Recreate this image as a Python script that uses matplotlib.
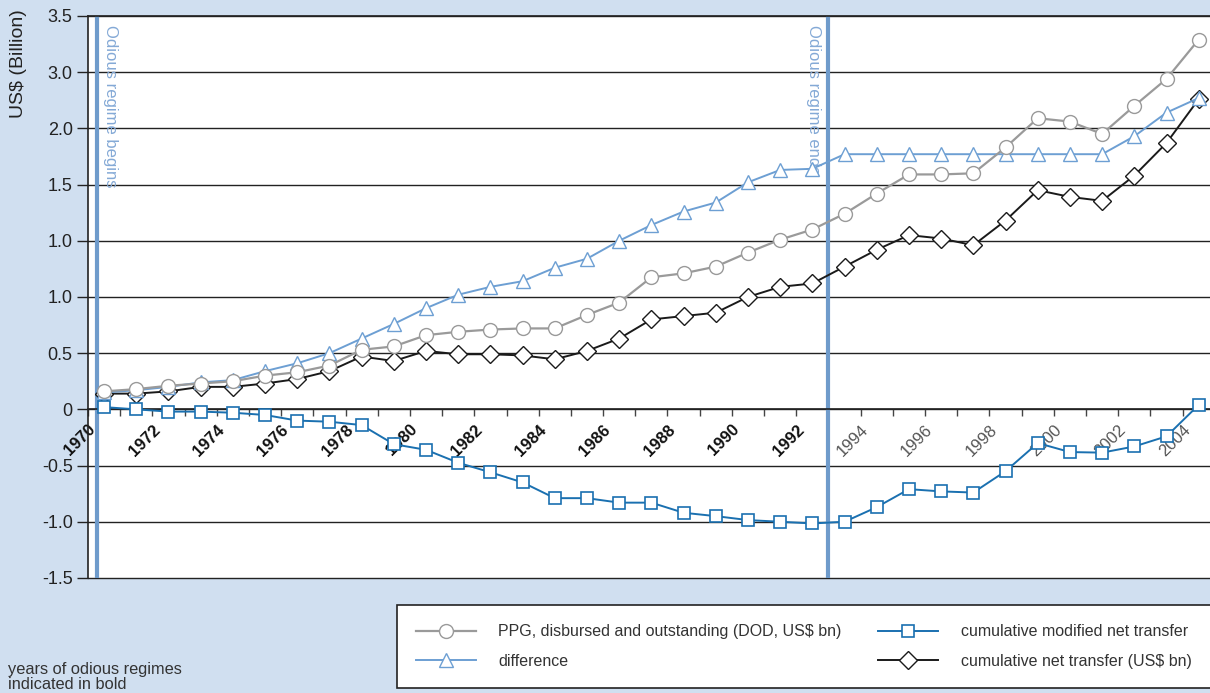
import matplotlib
matplotlib.use("Agg")
import matplotlib.pyplot as plt
import numpy as np

plt.rcParams['font.family'] = ['Liberation Sans', 'DejaVu Sans']

# data (US$ bn)
years = list(range(1970, 2005))
ppg_dod = [0.16, 0.18, 0.21, 0.23, 0.25, 0.30, 0.33, 0.39, 0.53, 0.56,
           0.66, 0.69, 0.71, 0.72, 0.72, 0.84, 0.95, 1.175, 1.21, 1.27,
           1.395, 1.51, 1.60, 1.74, 1.92, 2.09, 2.09, 2.10, 2.33, 2.59,
           2.56, 2.45, 2.70, 2.94, 3.29]
difference = [0.15, 0.17, 0.20, 0.24, 0.26, 0.34, 0.41, 0.50, 0.63, 0.76,
              0.90, 1.02, 1.09, 1.14, 1.26, 1.34, 1.50, 1.64, 1.76, 1.84,
              2.02, 2.13, 2.14, 2.27, 2.27, 2.27, 2.27, 2.27, 2.27, 2.27,
              2.27, 2.27, 2.43, 2.64, 2.77]
cum_net = [0.14, 0.14, 0.16, 0.20, 0.20, 0.23, 0.27, 0.34, 0.47, 0.43,
           0.52, 0.49, 0.49, 0.48, 0.445, 0.52, 0.63, 0.80, 0.83, 0.86,
           1.00, 1.09, 1.12, 1.27, 1.42, 1.55, 1.52, 1.46, 1.68, 1.95,
           1.89, 1.855, 2.08, 2.37, 2.76]
cum_mod_net = [0.02, 0.00, -0.02, -0.02, -0.03, -0.05, -0.10, -0.11, -0.14, -0.31,
               -0.36, -0.475, -0.56, -0.65, -0.79, -0.79, -0.83, -0.83, -0.92, -0.95,
               -0.985, -1.00, -1.015, -1.00, -0.87, -0.71, -0.73, -0.74, -0.55, -0.30,
               -0.38, -0.385, -0.33, -0.24, 0.04]

ytick_values = [3.5, 3.0, 2.5, 2.0, 1.5, 1.0, 0.5, 0, -0.5, -1.0, -1.5]
ytick_labels = ['3.5', '3.0', '2.0', '1.5', '1.0', '1.0', '0.5', '0', '-0.5', '-1.0', '-1.5']
label_years = list(range(1970, 2005, 2))
regime_start = 1970.27
regime_end = 1993.0

bg = '#d0dff0'
c_ppg = '#9a9a9a'
c_diff = '#6d9fd3'
c_mod = '#1a70b0'
c_net = '#1a1a1a'
c_regime = '#6f9bcb'
c_regime_txt = '#84a9d6'

fig = plt.figure(figsize=(12.1, 6.93), dpi=100, facecolor=bg)
ax = fig.add_axes([0.0727, 0.166, 0.9273, 0.811])
ax.set_facecolor('white')

x = np.array(years) + 0.5

for yv in ytick_values:
    ax.axhline(yv, color='#222222', lw=1.0, zorder=1, clip_on=False)

ax.axvline(regime_start, color=c_regime, lw=3, zorder=2)
ax.axvline(regime_end, color=c_regime, lw=3, zorder=2)
ax.text(regime_start + 0.2, 3.42, 'Odious regime begins', rotation=-90, va='top', ha='left',
        color=c_regime_txt, fontsize=12)
ax.text(regime_end - 0.22, 3.42, 'Odious regime ends', rotation=-90, va='top', ha='right',
        color=c_regime_txt, fontsize=12)

l_net, = ax.plot(x, cum_net, color=c_net, lw=1.4, marker='D', ms=9, mfc='white',
                 mec=c_net, mew=1.0, zorder=3, label='cumulative net transfer (US$ bn)')
l_diff, = ax.plot(x, difference, color=c_diff, lw=1.4, marker='^', ms=9.5, mfc='white',
                  mec=c_diff, mew=1.0, zorder=4, label='difference')
l_ppg, = ax.plot(x, ppg_dod, color=c_ppg, lw=1.6, marker='o', ms=10, mfc='white',
                 mec=c_ppg, mew=1.0, zorder=5, label='PPG, disbursed and outstanding (DOD, US$ bn)')
l_mod, = ax.plot(x, cum_mod_net, color=c_mod, lw=1.4, marker='s', ms=9, mfc='white',
                 mec=c_mod, mew=1.2, zorder=6, label='cumulative modified net transfer')

ax.set_xlim(1970, 2004.85)
ax.set_ylim(-1.5, 3.5)

ax.spines['bottom'].set_position(('data', 0))
ax.spines['right'].set_visible(False)
for s in ['bottom', 'left', 'top']:
    ax.spines[s].set_color('#222222')
    ax.spines[s].set_linewidth(1.2)

ax.set_yticks(ytick_values)
ax.set_yticklabels(ytick_labels, fontsize=13, color='#222222')
ax.tick_params(axis='y', length=8, width=1, color='#222222', direction='out', pad=3)

ax.set_xticks(label_years)
ax.set_xticks(years, minor=True)
ax.tick_params(axis='x', which='both', length=5, width=1, color='#444444', direction='out', pad=4)
ax.set_xticklabels([str(y) for y in label_years], rotation=45, ha='right',
                   rotation_mode='anchor', fontsize=12)
for lab, yr in zip(ax.get_xticklabels(), label_years):
    if yr <= regime_end:
        lab.set_fontweight('bold')
        lab.set_color('#111111')
    else:
        lab.set_color('#555555')

fig.text(0.008, 0.986, 'US$ (Billion)', rotation=90, va='top', ha='left', fontsize=14,
         color='#222222')
fig.text(0.007, 0.001, 'years of odious regimes\nindicated in bold', va='bottom', ha='left',
         fontsize=11.8, color='#333333', linespacing=1.0)

leg = fig.legend(handles=[l_ppg, l_diff, l_mod, l_net], ncol=2, loc='upper left',
                 bbox_to_anchor=(0.328, 0.127), frameon=True, fancybox=False,
                 framealpha=1.0, fontsize=11.5, handlelength=3.75, handletextpad=1.4,
                 labelspacing=0.9, borderpad=1.2, columnspacing=2.3, borderaxespad=0)
leg.get_frame().set_edgecolor('#222222')
leg.get_frame().set_linewidth(1.2)
leg.get_frame().set_facecolor('white')
for t in leg.get_texts():
    t.set_color('#333333')

fig.savefig('out.png', dpi=100, facecolor=bg)
